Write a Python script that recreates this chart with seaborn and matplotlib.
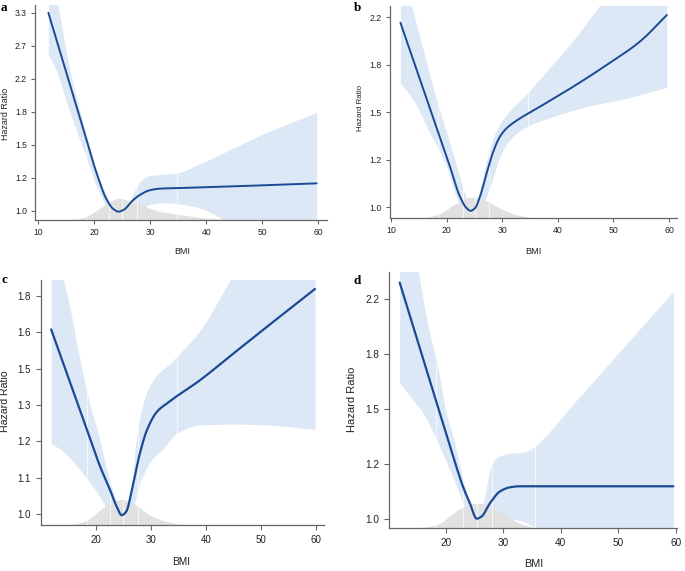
import numpy as np
import pandas as pd
import matplotlib
matplotlib.use("Agg")
import matplotlib.pyplot as plt
from matplotlib.ticker import NullLocator
import seaborn as sns

# ---------------- data ----------------
# panel a
a_x = [11.8, 15.1, 18.0, 20.4, 22.2, 23.4, 24.3, 25.3, 26.7, 28.2, 29.9, 31.7, 35.9, 44.8, 59.7]
a_hr = [3.30, 2.28, 1.645, 1.257, 1.071, 1.012, 0.996, 1.008, 1.06, 1.103, 1.133, 1.144, 1.149, 1.16, 1.181]
a_up_x = [11.8, 13.45, 15.5, 18.5, 21.5, 23.6, 24.5, 25.8, 27.0, 28.2, 29.9, 32.9, 34.7, 38.9, 44.8, 50.8, 59.7]
a_up = [4.2, 3.46, 2.39, 1.60, 1.16, 1.028, 1.0, 1.024, 1.115, 1.196, 1.237, 1.249, 1.257, 1.33, 1.46, 1.606, 1.81]
a_lo_x = [11.8, 12.9, 15.5, 18.5, 20.9, 22.7, 24.5, 26.1, 28.2, 29.9, 32.3, 34.7, 37.7, 40.7, 43.0, 47.8, 59.7]
a_lo = [2.56, 2.39, 1.84, 1.39, 1.115, 1.008, 0.993, 0.996, 1.012, 1.041, 1.051, 1.045, 1.028, 0.992, 0.949, 0.876, 0.776]
a_dx = [14, 17, 19, 21, 23, 24.4, 26, 28.2, 31.7, 35.3, 40, 44]
a_dy = [0.949, 0.952, 0.975, 1.018, 1.062, 1.08, 1.064, 1.038, 0.998, 0.978, 0.958, 0.949]
a_knots = [18.5, 22.7, 25.0, 27.7, 34.8]
a_ticklabels = ["1.0", "1.2", "1.5", "1.8", "2.2", "2.7", "3.3"]

# panel b
b_x = [11.7, 14.0, 16.4, 18.8, 20.6, 22.4, 23.6, 24.3, 25.1, 26.0, 27.2, 28.4, 29.6, 30.8, 32.6, 36.8, 42.8, 48.8, 54.8, 59.6]
b_hr = [2.15, 1.842, 1.568, 1.335, 1.184, 1.045, 0.996, 0.985, 0.996, 1.045, 1.152, 1.26, 1.341, 1.388, 1.433, 1.518, 1.65, 1.805, 1.99, 2.22]
b_up_x = [11.7, 13.7, 15.8, 18.2, 20.6, 22.7, 23.9, 24.4, 25.4, 27.2, 29.0, 30.8, 34.4, 38.0, 42.8, 48.8, 59.6]
b_up = [2.75, 2.305, 1.921, 1.561, 1.304, 1.105, 1.017, 0.99, 1.017, 1.217, 1.378, 1.47, 1.6, 1.76, 2.0, 2.4, 3.2]
b_lo_x = [11.7, 14.0, 17.0, 20.0, 21.5, 22.7, 24.3, 26.0, 27.8, 29.6, 31.4, 34.4, 39.2, 45.2, 52.4, 59.6]
b_lo = [1.673, 1.561, 1.36, 1.184, 1.06, 0.996, 0.98, 0.989, 1.09, 1.234, 1.322, 1.397, 1.457, 1.518, 1.572, 1.645]
b_dx = [14, 16.5, 18.8, 21.8, 24.3, 26.6, 29.6, 32.6, 36.8, 40]
b_dy = [0.955, 0.96, 0.975, 1.017, 1.042, 1.031, 0.996, 0.969, 0.957, 0.955]
b_knots = [18.5, 22.9, 25.1, 27.7, 34.7]
b_ticklabels = ["1.0", "1.2", "1.5", "1.8", "2.2"]

# panel c
c_x = [11.9, 14.7, 17.7, 20.8, 22.6, 23.8, 24.7, 25.5, 26.8, 28.0, 29.3, 31.1, 32.9, 39.0, 45.0, 51.1, 59.8]
c_hr = [1.644, 1.464, 1.292, 1.136, 1.067, 1.02, 0.997, 1.006, 1.086, 1.177, 1.254, 1.317, 1.347, 1.435, 1.541, 1.656, 1.833]
c_up_x = [11.9, 14.1, 15.33, 16.85, 18.67, 20.5, 22.3, 23.8, 24.7, 25.6, 26.5, 27.1, 28.1, 29.3, 31.1, 33.5, 34.7, 39.0, 44.4, 59.8]
c_up = [2.2, 1.886, 1.74, 1.548, 1.365, 1.237, 1.11, 1.034, 1.0, 1.02, 1.062, 1.183, 1.306, 1.39, 1.454, 1.5, 1.528, 1.642, 1.878, 2.74]
c_lo_x = [11.9, 14.1, 15.9, 18.4, 20.5, 22.0, 23.5, 24.7, 26.2, 28.1, 29.9, 32.3, 34.7, 39.0, 45.0, 51.1, 59.8]
c_lo = [1.21, 1.183, 1.151, 1.10, 1.053, 1.015, 0.993, 0.99, 0.997, 1.091, 1.151, 1.194, 1.243, 1.271, 1.274, 1.271, 1.256]
c_dx = [14.5, 16.5, 18.4, 20.8, 22.6, 24.7, 26.8, 29.9, 32.9, 36.5, 40]
c_dy = [0.971, 0.975, 0.984, 1.011, 1.029, 1.04, 1.029, 0.997, 0.98, 0.972, 0.971]
c_knots = [18.4, 22.6, 25.0, 27.6, 34.8]
c_ticklabels = ["1.0", "1.1", "1.2", "1.3", "1.5", "1.6", "1.8"]

# panel d
d_x = [12.0, 14.3, 16.7, 19.0, 21.3, 23.0, 24.2, 25.4, 26.2, 27.7, 29.4, 31.2, 32.9, 45.0, 59.6]
d_hr = [2.33, 1.998, 1.70, 1.457, 1.249, 1.122, 1.057, 1.0, 1.007, 1.057, 1.102, 1.119, 1.123, 1.123, 1.123]
d_up_x = [12.0, 15.2, 16.7, 18.7, 20.1, 21.3, 23.3, 24.5, 25.4, 26.8, 27.7, 28.8, 31.2, 32.9, 34.6, 36.4, 42.2, 48.0, 53.8, 59.6]
d_up = [3.2, 2.43, 2.04, 1.705, 1.459, 1.342, 1.122, 1.032, 1.0, 1.082, 1.191, 1.242, 1.264, 1.267, 1.279, 1.318, 1.509, 1.726, 1.976, 2.258]
d_lo_x = [12.0, 13.8, 16.1, 18.4, 20.7, 22.8, 23.9, 25.4, 26.5, 28.5, 30.0, 32.0, 34.0, 35.8, 40.0, 50.0, 59.6]
d_lo = [1.626, 1.55, 1.459, 1.326, 1.191, 1.069, 1.007, 0.995, 1.0, 1.0, 0.998, 0.997, 0.985, 0.966, 0.92, 0.8, 0.7]
d_dx = [14, 17, 19, 21, 22.5, 24.8, 26.5, 28.8, 31.2, 33, 36, 40]
d_dy = [0.966, 0.972, 0.984, 1.015, 1.036, 1.056, 1.056, 1.032, 1.001, 0.983, 0.968, 0.966]
d_knots = [18.4, 23.0, 25.4, 28.1, 35.5]
d_ticklabels = ["1.0", "1.2", "1.5", "1.8", "2.2"]

panel_letters = ["a", "b", "c", "d"]
x_label = "BMI"
y_label = "Hazard Ratio"

# ---------------- helpers ----------------
def pchip(x, y, xn):
    x = np.asarray(x, float); y = np.asarray(y, float)
    h = np.diff(x); d = np.diff(y) / h
    m = np.zeros_like(y)
    for k in range(1, len(x) - 1):
        if d[k - 1] * d[k] > 0:
            w1 = 2 * h[k] + h[k - 1]; w2 = h[k] + 2 * h[k - 1]
            m[k] = (w1 + w2) / (w1 / d[k - 1] + w2 / d[k])
    m[0] = d[0]; m[-1] = d[-1]
    idx = np.clip(np.searchsorted(x, xn) - 1, 0, len(x) - 2)
    t = (xn - x[idx]) / h[idx]
    h00 = 2 * t**3 - 3 * t**2 + 1; h10 = t**3 - 2 * t**2 + t
    h01 = -2 * t**3 + 3 * t**2; h11 = t**3 - t**2
    return h00 * y[idx] + h10 * h[idx] * m[idx] + h01 * y[idx + 1] + h11 * h[idx] * m[idx + 1]

def smooth(x, y, xn):
    return np.exp(pchip(x, np.log(y), xn))

W, H = 685, 571
def fx(px): return px / W
def fy(py): return 1 - py / H

LINE = "#1b4a94"
BAND = "#dce8f5"
DENS = "#e1e1e1"
AXC = "#666666"
TXT = "#222222"

sns.set_style("ticks")
plt.rcParams["font.family"] = ["Liberation Sans", "DejaVu Sans"]

fig = plt.figure(figsize=(W / 100, H / 100), dpi=100)

panels = [
    dict(x=a_x, hr=a_hr, ux=a_up_x, up=a_up, lx=a_lo_x, lo=a_lo, dx=a_dx, dy=a_dy, knots=a_knots,
         tl=a_ticklabels, xt=[10, 20, 30, 40, 50, 60],
         box=(35, 327, 5, 220), xlim=(9.41, 61.55), ylim=(0.947, 3.46),
         tick_fs=6.2, ylab_fs=6.4, xlab_fs=6.4, lw=1.4, tl_len=2.6, pad=3.2,
         letter=(4, 8), ylab=(6, 114), xlab=(181.7, 251)),
    dict(x=b_x, hr=b_hr, ux=b_up_x, up=b_up, lx=b_lo_x, lo=b_lo, dx=b_dx, dy=b_dy, knots=b_knots,
         tl=b_ticklabels, xt=[10, 20, 30, 40, 50, 60],
         box=(390, 676.7, 6, 218.3), xlim=(9.82, 61.38), ylim=(0.955, 2.305),
         tick_fs=6.3, ylab_fs=5.7, xlab_fs=6.6, lw=1.4, tl_len=2.6, pad=3.2,
         letter=(357, 8), ylab=(360, 108), xlab=(533, 252)),
    dict(x=c_x, hr=c_hr, ux=c_up_x, up=c_up, lx=c_lo_x, lo=c_lo, dx=c_dx, dy=c_dy, knots=c_knots,
         tl=c_ticklabels, xt=[20, 30, 40, 50, 60],
         box=(40.7, 324.3, 280, 525), xlim=(10.0, 61.5), ylim=(0.971, 1.878),
         tick_fs=7.0, ylab_fs=7.6, xlab_fs=7.3, lw=1.6, tl_len=3.6, pad=3.5,
         letter=(4, 280), ylab=(5.5, 401), xlab=(181, 562)),
    dict(x=d_x, hr=d_hr, ux=d_up_x, up=d_up, lx=d_lo_x, lo=d_lo, dx=d_dx, dy=d_dy, knots=d_knots,
         tl=d_ticklabels, xt=[20, 30, 40, 50, 60],
         box=(389, 676.7, 272, 528.3), xlim=(10.14, 60.17), ylim=(0.966, 2.42),
         tick_fs=7.2, ylab_fs=8.0, xlab_fs=7.8, lw=1.6, tl_len=3.6, pad=3.5,
         letter=(357, 281), ylab=(352, 399.5), xlab=(533.7, 564)),
]

for letter, p in zip(panel_letters, panels):
    l, r, t, b = p["box"]
    ax = fig.add_axes([fx(l), fy(b), fx(r) - fx(l), fy(t) - fy(b)])
    ax.set_yscale("log")
    ax.set_xlim(*p["xlim"])
    ax.set_ylim(*p["ylim"])
    ymin = p["ylim"][0]

    x0 = max(p["x"][0], p["ux"][0], p["lx"][0])
    x1 = min(p["x"][-1], p["ux"][-1], p["lx"][-1])
    xs = np.linspace(x0, x1, 800)
    hr = smooth(p["x"], p["hr"], xs)
    up = smooth(p["ux"], p["up"], xs)
    lo = smooth(p["lx"], p["lo"], xs)

    # confidence band
    ax.fill_between(xs, lo, up, color=BAND, lw=0, zorder=1)

    # BMI density
    dxs = np.linspace(p["dx"][0], p["dx"][-1], 400)
    dys = smooth(p["dx"], p["dy"], dxs)
    ax.fill_between(dxs, ymin * 0.9, dys, color=DENS, lw=0, zorder=2)

    # seams at spline knots
    for k in p["knots"]:
        kk = np.array([k])
        top = float(smooth(p["ux"], p["up"], kk)[0])
        if p["dx"][0] <= k <= p["dx"][-1]:
            top = max(top, float(smooth(p["dx"], p["dy"], kk)[0]))
        bot = min(float(smooth(p["lx"], p["lo"], kk)[0]), ymin)
        ax.vlines(k, bot, top, color="white", lw=0.6, alpha=0.85, zorder=3)

    df = pd.DataFrame({"BMI": xs, "HR": hr})
    sns.lineplot(data=df, x="BMI", y="HR", ax=ax, color=LINE, lw=p["lw"], zorder=4)

    n = len(p["tl"])
    top_val = float(p["tl"][-1])
    yt = np.exp(np.linspace(0, np.log(top_val), n))
    ax.set_yticks(yt)
    ax.set_yticklabels(p["tl"])
    ax.yaxis.set_minor_locator(NullLocator())
    ax.set_xticks(p["xt"])
    ax.set_xticklabels([str(v) for v in p["xt"]])
    ax.set_xlabel(""); ax.set_ylabel("")

    for s in ["top", "right"]:
        ax.spines[s].set_visible(False)
    for s in ["left", "bottom"]:
        ax.spines[s].set_color(AXC)
        ax.spines[s].set_linewidth(0.9)
    ax.tick_params(axis="both", which="major", direction="out", length=p["tl_len"], width=0.8,
                   color=AXC, labelsize=p["tick_fs"], labelcolor=TXT, pad=p["pad"])
    ax.set_facecolor("white")

    fig.text(fx(p["letter"][0]), fy(p["letter"][1]), letter, family=["Liberation Serif", "DejaVu Serif"],
             fontweight="bold", fontsize=9.5, ha="center", va="center", color="black")
    fig.text(fx(p["ylab"][0]), fy(p["ylab"][1]), y_label, rotation=90, fontsize=p["ylab_fs"],
             ha="center", va="center", color=TXT)
    fig.text(fx(p["xlab"][0]), fy(p["xlab"][1]), x_label, fontsize=p["xlab_fs"],
             ha="center", va="center", color=TXT)

fig.savefig("out.png", dpi=100, facecolor="white")
